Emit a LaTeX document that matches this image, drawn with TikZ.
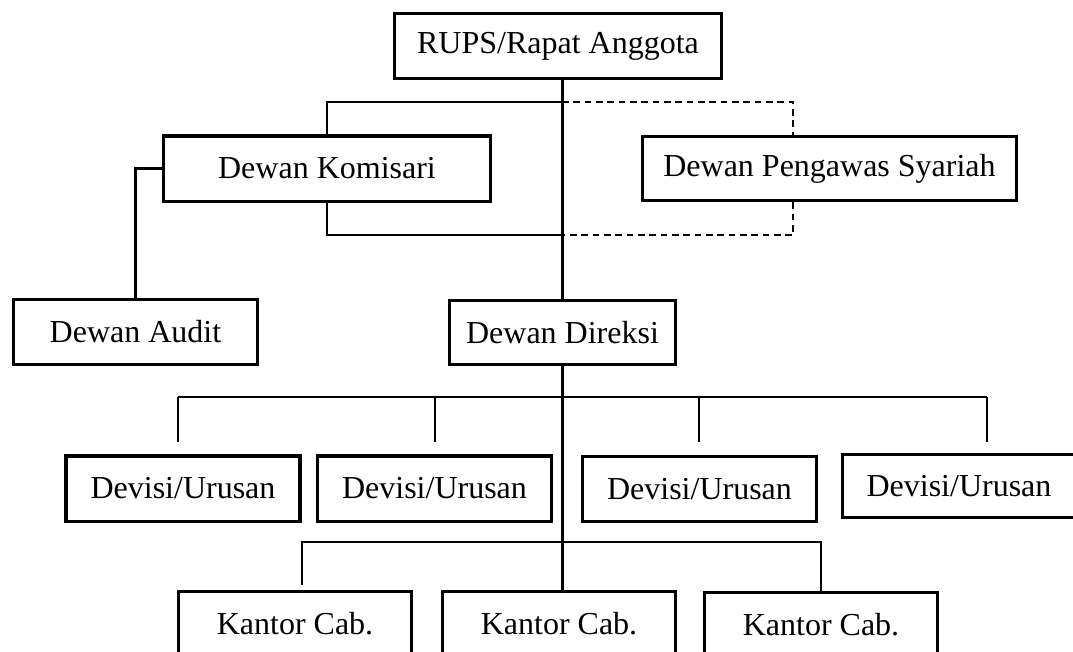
\documentclass[tikz,border=0pt]{standalone}
\usepackage{fontspec}
\setmainfont{Liberation Serif}

\tikzset{
  box/.style={draw, line width=2.5pt, inner sep=0pt, minimum height=49pt,
    font=\fontsize{24}{28}\selectfont},
  link/.style={line width=1.6pt},
  dlink/.style={line width=1.6pt, dash pattern=on 5pt off 3.5pt}
}

\begin{document}
\begin{tikzpicture}[x=0.75pt,y=-0.75pt]
		\fill[white] (0,0) rectangle (1073,651);
		\clip (0,0) rectangle (1073,651);
		% boxes
		\node[box, minimum width=245pt, minimum height=48.75pt] (rups) at (558,46) {RUPS/Rapat Anggota};
		\node[box, minimum width=245pt] (komisari) at (327,168.5) {Dewan Komisari};
		\node[box, minimum width=280.5pt, minimum height=48pt] (syariah) at (829.5,168.5) {Dewan Pengawas Syariah};
		\node[box, minimum width=183pt, minimum height=48.75pt] (audit) at (135.5,332) {Dewan Audit};
		\node[box, minimum width=169.5pt, minimum height=48pt] (direksi) at (562.5,332.5) {Dewan Direksi};
		\node[box, minimum width=175.5pt] (devisi1) at (183,488.5) {Devisi/Urusan};
		\node[box, minimum width=175.5pt] (devisi2) at (434.5,488.5) {Devisi/Urusan};
		\node[box, minimum width=175.5pt, minimum height=48.75pt] (devisi3) at (699.5,489) {Devisi/Urusan};
		\node[box, minimum width=175pt, minimum height=47.25pt] (devisi4) at (959,486) {Devisi/Urusan};
		\node[box, minimum width=175pt] (kantor1) at (295,624) {Kantor Cab.};
		\node[box, minimum width=175pt] (kantor2) at (559,624) {Kantor Cab.};
		\node[box, minimum width=175pt] (kantor3) at (821,625) {Kantor Cab.};

		% RUPS - komisari - syariah
		\coordinate (topbus) at (562,102);
		\coordinate (botbus) at (562,235);
		\coordinate (stop) at (793,102);
		\coordinate (sbot) at (793,235);
		\draw[link] (rups.south -| direksi.north) -- (direksi.north);
		\draw[link] (komisari.north) |- (topbus);
		\draw[link] (komisari.south) |- (botbus);
		\draw[dlink] (topbus) -- (stop) -- (stop |- syariah.north);
		\draw[dlink] (syariah.south -| sbot) -- (sbot) -- (botbus);
		\draw[link] (komisari.west) -| (audit.north);

		% direksi - devisi
		\coordinate (dvbus) at (562,397);
		\foreach \i/\x in {1/178,2/435,3/699,4/987} {
			\coordinate (dv\i) at (\x,442);
			\draw[link] (dv\i |- dvbus) -- (dv\i);
		}
		\draw[link] (dv1 |- dvbus) -- (dv4 |- dvbus);

		% direksi - kantor
		\coordinate (kcbus) at (562,542);
		\coordinate (kc1) at (302,585);
		\draw[link] (direksi.south) -- (direksi.south |- kantor2.north);
		\draw[link] (kc1) |- (kcbus) -| (kantor3.north);
	\end{tikzpicture}
\end{document}
